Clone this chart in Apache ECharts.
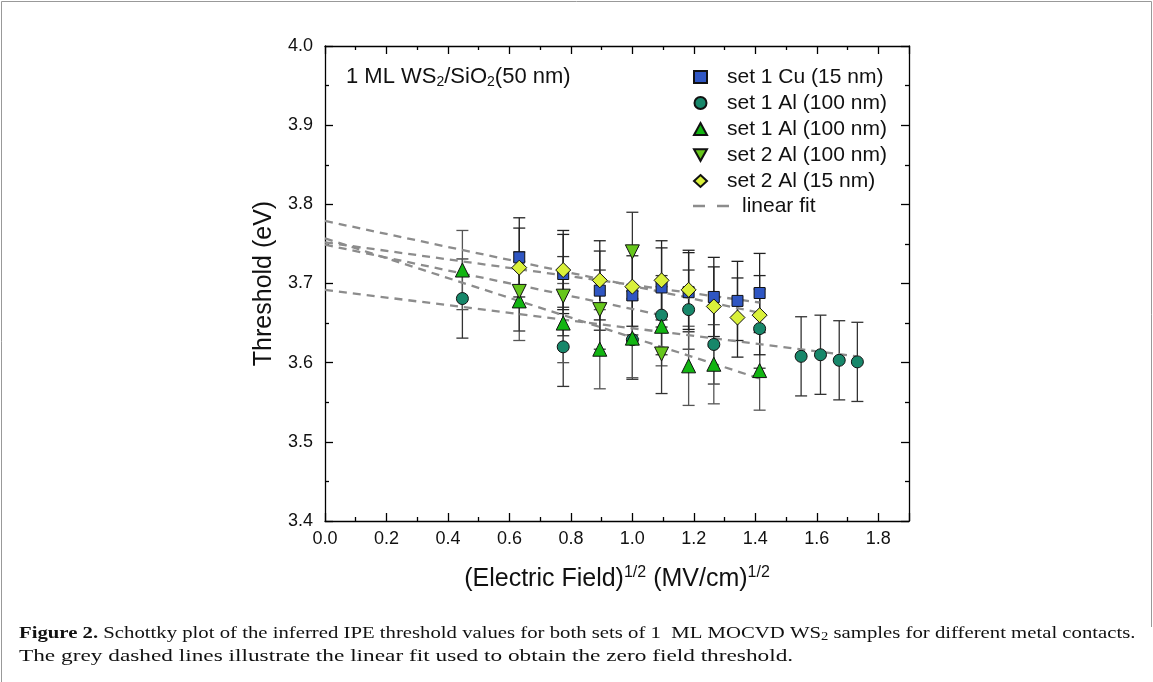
<!DOCTYPE html>
<html><head><meta charset="utf-8">
<script src="https://cdn.jsdelivr.net/npm/echarts@6/dist/echarts.min.js"></script>
<style>html,body{margin:0;padding:0;background:#fff}#c{width:1153px;height:682px}</style>
</head><body><div id="c"></div>
<script>
// ---- data ----
const xTicks = ['0.0','0.2','0.4','0.6','0.8','1.0','1.2','1.4','1.6','1.8'];
const yTicks = ['3.4','3.5','3.6','3.7','3.8','3.9','4.0'];

const cuX   = [0.632,0.775,0.894,1.000,1.095,1.183,1.265,1.342,1.414];
const cuY   = [3.733,3.712,3.691,3.685,3.695,3.689,3.683,3.678,3.688];
const cuE   = [0.05,0.05,0.05,0.05,0.05,0.05,0.05,0.05,0.05];

const al1cX = [0.447,0.775,1.000,1.095,1.183,1.265,1.414,1.549,1.612,1.673,1.732];
const al1cY = [3.681,3.620,3.629,3.660,3.667,3.623,3.643,3.608,3.610,3.603,3.601];
const al1cE = [0.05,0.05,0.05,0.05,0.05,0.05,0.05,0.05,0.05,0.05,0.05];

const al1tX = [0.447,0.632,0.775,0.894,1.000,1.095,1.183,1.265,1.414];
const al1tY = [3.717,3.678,3.650,3.617,3.631,3.646,3.596,3.598,3.590];
const al1tE = [0.05,0.05,0.05,0.05,0.05,0.05,0.05,0.05,0.05];

const al2dX = [0.632,0.775,0.894,1.000,1.095];
const al2dY = [3.690,3.684,3.667,3.740,3.611];
const al2dE = [0.05,0.05,0.05,0.05,0.05];

const al2sX = [0.632,0.775,0.894,1.000,1.095,1.183,1.265,1.342,1.414];
const al2sY = [3.720,3.717,3.704,3.696,3.704,3.692,3.671,3.657,3.660];
const al2sE = [0.05,0.05,0.05,0.05,0.05,0.05,0.05,0.05,0.05];

// linear fit end points [x, y]
const fitCu   = [[0,3.752],[1.414,3.676]];
const fitAl1c = [[0,3.692],[1.732,3.608]];
const fitAl1t = [[0,3.757],[1.414,3.580]];
const fitAl2d = [[0,3.749],[1.095,3.660]];
const fitAl2s = [[0,3.779],[1.414,3.663]];

const names = ['set 1 Cu (15 nm)','set 1 Al (100 nm)','set 1 Al (100 nm) ','set 2 Al (100 nm)','set 2 Al (15 nm)'];
// ---------------------------------------

const FONT = 'Liberation Sans, Arial, sans-serif';
const SERIF = 'Liberation Serif, serif';
const zip = (xs, ys) => xs.map((x,i)=>[x, ys[i]]);
const zip3 = (xs, ys, es) => xs.map((x,i)=>[x, ys[i], es[i]]);
const downTri = 'path://M0,0 L10,0 L5,9 Z';
const dashIcon = 'path://M0,0 L12,0 L12,2.5 L0,2.5 Z M24,0 L36,0 L36,2.5 L24,2.5 Z';

function errSeries(xs, ys, es, color) {
  return {
    type: 'custom', silent: true, z: 2,
    data: zip3(xs, ys, es),
    renderItem: function (params, api) {
      const x = api.value(0), y = api.value(1), e = api.value(2);
      const top = api.coord([x, y + e]), bot = api.coord([x, y - e]);
      const w = 6;
      const st = { stroke: color, lineWidth: 1.3 };
      return { type: 'group', children: [
        { type: 'line', shape: { x1: top[0], y1: top[1], x2: bot[0], y2: bot[1] }, style: st },
        { type: 'line', shape: { x1: top[0]-w, y1: top[1], x2: top[0]+w, y2: top[1] }, style: st },
        { type: 'line', shape: { x1: bot[0]-w, y1: bot[1], x2: bot[0]+w, y2: bot[1] }, style: st }
      ]};
    }
  };
}
function fitSeries(pts) {
  return { name: 'linear fit', type: 'line', data: pts, symbol: 'none', showSymbol: false, z: 3, silent: true,
    lineStyle: { color: '#8c8c8c', width: 2.3, type: [8, 6] }, itemStyle: { color: '#8c8c8c' } };
}
function scat(name, xs, ys, symbol, size, color) {
  return { name, type: 'scatter', data: zip(xs, ys), symbol, symbolSize: size, z: 5,
    itemStyle: { color, borderColor: '#111', borderWidth: 1, opacity: 1 } };
}
function mkAxis(extra) {
  return Object.assign({
    type: 'value',
    axisLine: { show: true, onZero: false, lineStyle: { color: '#000', width: 1.3 } },
    axisTick: { show: true, inside: true, length: 8, lineStyle: { color: '#000', width: 1.3 } },
    minorTick: { show: true, splitNumber: 2, length: 4, lineStyle: { color: '#000', width: 1.3 } },
    splitLine: { show: false }, minorSplitLine: { show: false }
  }, extra);
}

const chart = echarts.init(document.getElementById('c'), null, { renderer: 'canvas' });
chart.setOption({
  animation: false,
  backgroundColor: '#fff',
  grid: { left: 325, right: 244, top: 46, bottom: 161 },
  xAxis: [
    mkAxis({ min: 0, max: 1.9, interval: 0.2, position: 'bottom',
      axisLabel: { show: true, showMaxLabel: false, margin: 9, fontFamily: FONT, fontSize: 18, color: '#111',
        formatter: v => xTicks[Math.round(v/0.2)] || '' },
      name: '(Electric Field){sup|1/2} (MV/cm){sup|1/2}', nameLocation: 'middle', nameGap: 44,
      nameTextStyle: { fontFamily: FONT, fontSize: 25, color: '#111',
        rich: { sup: { fontFamily: FONT, fontSize: 16, color: '#111', verticalAlign: 'top', padding: [0,0,12,0] } } } }),
    mkAxis({ min: 0, max: 1.9, interval: 0.2, position: 'top', axisLabel: { show: false } })
  ],
  yAxis: [
    mkAxis({ min: 3.4, max: 4.0, interval: 0.1, position: 'left',
      axisLabel: { margin: 12, fontFamily: FONT, fontSize: 18, color: '#111',
        formatter: v => yTicks[Math.round((v-3.4)/0.1)] || '' },
      name: 'Threshold (eV)', nameLocation: 'middle', nameGap: 44,
      nameTextStyle: { fontFamily: FONT, fontSize: 25, color: '#111' } }),
    mkAxis({ min: 3.4, max: 4.0, interval: 0.1, position: 'right', axisLabel: { show: false } })
  ],
  legend: [
    { data: names.map(n=>({ name: n })), orient: 'vertical', left: 688, top: 61,
      itemWidth: 13, itemHeight: 12, itemGap: 4, selectedMode: false,
      textStyle: { fontFamily: FONT, fontSize: 21, color: '#111', lineHeight: 22, padding: [0,0,0,15] } },
    { data: [{ name: 'linear fit', icon: dashIcon }], orient: 'vertical', left: 688, top: 190,
      itemWidth: 36, itemHeight: 12, selectedMode: false,
      textStyle: { fontFamily: FONT, fontSize: 21, color: '#111', lineHeight: 22, padding: [0,0,0,8] } }
  ],
  series: [
    fitSeries(fitCu), fitSeries(fitAl1c), fitSeries(fitAl1t), fitSeries(fitAl2d), fitSeries(fitAl2s),
    errSeries(cuX, cuY, cuE, '#222'),
    errSeries(al1cX, al1cY, al1cE, '#333'),
    errSeries(al1tX, al1tY, al1tE, '#555'),
    errSeries(al2dX, al2dY, al2dE, '#333'),
    errSeries(al2sX, al2sY, al2sE, '#222'),
    scat(names[0], cuX, cuY, 'rect', 11, '#2f56c2'),
    scat(names[1], al1cX, al1cY, 'circle', 12, '#17876a'),
    scat(names[2], al1tX, al1tY, 'triangle', 14, '#12b512'),
    scat(names[3], al2dX, al2dY, downTri, 14, '#66c61c'),
    scat(names[4], al2sX, al2sY, 'diamond', 15, '#d9f03a')
  ],
  graphic: [
    { type: 'text', x: 346, y: 64, style: {
      text: '1 ML WS{sub|2}/SiO{sub|2}(50 nm)', fontFamily: FONT, fontSize: 22, fill: '#111', verticalAlign: 'top',
      rich: { sub: { fontFamily: FONT, fontSize: 14, fill: '#111', verticalAlign: 'bottom', padding: [11,0,0,0] } } } },
    { type: 'text', x: 19, y: 625, scaleX: 1.22, style: {
      text: '{b|Figure 2.} Schottky plot of the inferred IPE threshold values for both sets of 1  ML MOCVD WS{sub|2} samples for different metal contacts.',
      fontFamily: SERIF, fontSize: 17, fill: '#111', verticalAlign: 'top',
      rich: { b: { fontFamily: SERIF, fontWeight: 'bold', fontSize: 17, fill: '#111' },
              sub: { fontFamily: SERIF, fontSize: 12, fill: '#111', verticalAlign: 'bottom', padding: [6,0,0,0] } } } },
    { type: 'text', x: 19, y: 648, scaleX: 1.37, style: {
      text: 'The grey dashed lines illustrate the linear fit used to obtain the zero field threshold.',
      fontFamily: SERIF, fontSize: 17, fill: '#111', verticalAlign: 'top' } },
    { type: 'line', shape: { x1: 1.5, y1: 1.5, x2: 1151.5, y2: 1.5 }, style: { stroke: '#999', lineWidth: 1 } },
    { type: 'line', shape: { x1: 1.5, y1: 1.5, x2: 1.5, y2: 682 }, style: { stroke: '#999', lineWidth: 1 } },
    { type: 'line', shape: { x1: 1151.5, y1: 1.5, x2: 1151.5, y2: 627 }, style: { stroke: '#999', lineWidth: 1 } }
  ]
});
</script>
</body></html>
